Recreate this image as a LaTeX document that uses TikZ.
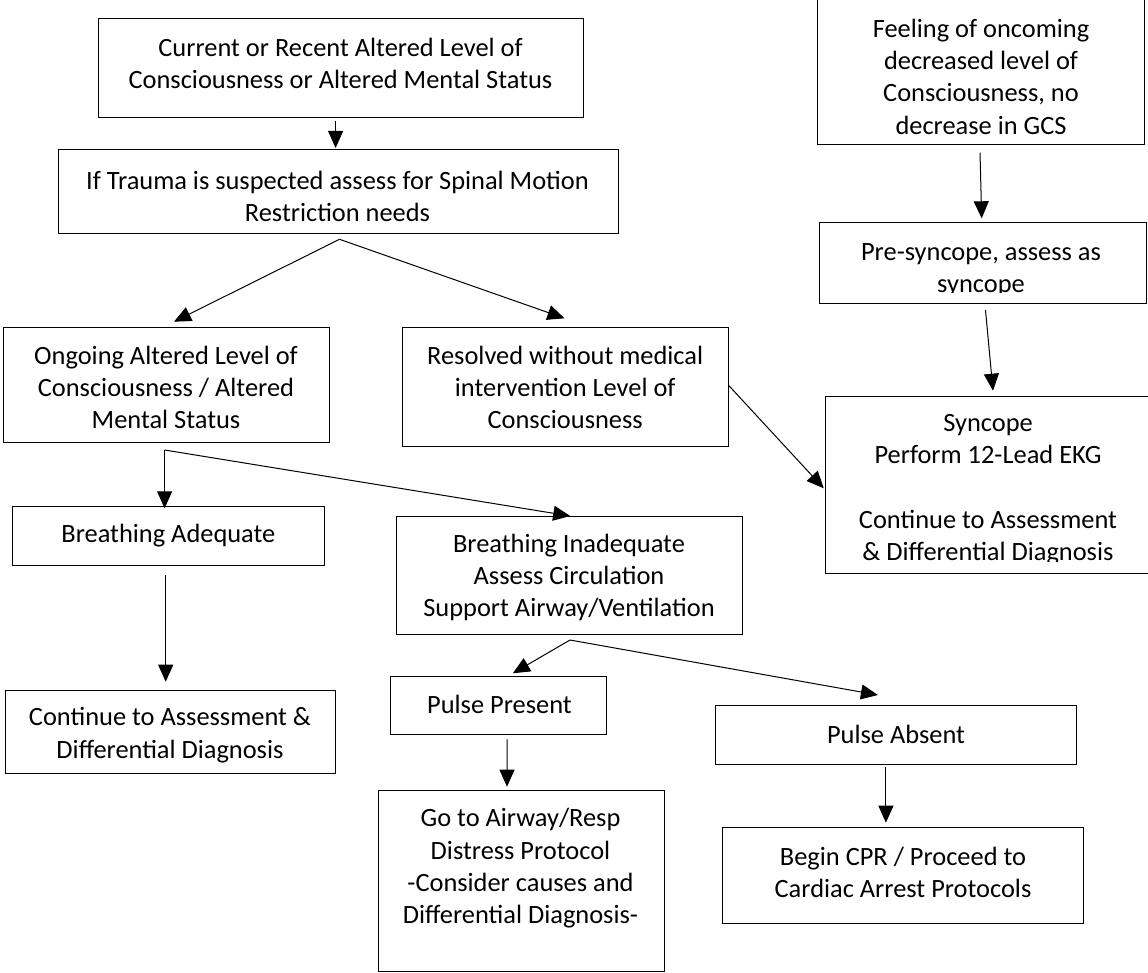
\documentclass[tikz,border=0pt]{standalone}
\usepackage{fontspec}
\setmainfont{Carlito}
\usetikzlibrary{calc,arrows.meta}

\tikzset{
  box/.style={draw=black, line width=1pt, fill=none, inner sep=0pt, outer sep=0pt},
  txt/.style={align=center, inner sep=0pt, font=\fontsize{26.4}{32.3}\selectfont},
  arr/.style={line width=1pt, -{Triangle[length=17pt,width=15pt]}}
}

% place a framed box from its corners: \boxat{name}{left}{top}{right}{bottom}
\newcommand{\boxat}[5]{%
  \node[box, minimum width={(#4-#2)*1pt}, minimum height={(#5-#3)*1pt}] (#1) at ({(#2+#4)/2},{(#3+#5)/2}) {};}

\begin{document}
\begin{tikzpicture}[x=1pt,y=-1pt]
\useasboundingbox (0,0) rectangle (1148,973);
\clip (0,0) rectangle (1148,973);

% boxes
\boxat{b1}{98}{19}{583}{117.3}
\boxat{b2}{58.6}{150}{618}{233.3}
\boxat{ongoing}{3}{327.3}{329}{442.3}
\boxat{resolved}{402.6}{327.3}{728.3}{446}
\boxat{feeling}{817.8}{-5}{1144.2}{145}
\boxat{pre}{819.5}{222.3}{1146}{304}
\boxat{syncope}{825.4}{396}{1160}{573.3}
\boxat{badequate}{12.6}{506}{324.5}{565}
\boxat{binadequate}{396.9}{516.7}{742.6}{634.3}
\boxat{continue}{5.4}{690}{335.6}{773.3}
\boxat{ppresent}{390.4}{676}{606.3}{734.3}
\boxat{goto}{378.9}{790}{664}{971.7}
\boxat{pabsent}{715.3}{705.7}{1076}{764}
\boxat{cpr}{722.3}{827.7}{1083}{923.3}

% texts
\node[txt] (b1t) at (340.5,63.5) {Current or Recent Altered Level of\\Consciousness or Altered Mental Status};
\node[txt] (b2t) at (337.5,196.7) {If Trauma is suspected assess for Spinal Motion\\Restriction needs};
\node[txt] (ongoingt) at (166,387.6) {Ongoing Altered Level of\\Consciousness / Altered\\Mental Status};
\node[txt] (resolvedt) at (565.2,387.6) {Resolved without medical\\intervention Level of\\Consciousness};
\node[txt] (feelingt) at (981,76.5) {Feeling of oncoming\\decreased level of\\Consciousness, no\\decrease in GCS};
\begin{scope}
  \clip (819.5,222.3) rectangle (1146,292.7);
  \node[txt] (pret) at (981,270) {Pre-syncope, assess as\\syncope};
\end{scope}
\begin{scope}
  \clip (825.4,396) rectangle (1148,561.7);
  \node[txt] (syncopet) at (988,490) {Syncope\\Perform 12-Lead EKG\\[32.3pt]Continue to Assessment\\\& Differential Diagnosis};
\end{scope}
\node[txt] (badequatet) at (168.4,536) {Breathing Adequate};
\node[txt] (binadequatet) at (569,577.5) {Breathing Inadequate\\Assess Circulation\\Support Airway/Ventilation};
\node[txt] (continuet) at (170,735) {Continue to Assessment \&\\Differential Diagnosis};
\node[txt] (ppresentt) at (499.4,704) {Pulse Present};
\node[txt] (gotot) at (520.5,868.3) {Go to Airway/Resp\\Distress Protocol\\-Consider causes and\\Differential Diagnosis-};
\node[txt] (pabsentt) at (896,734) {Pulse Absent};
\node[txt] (cprt) at (903,872.5) {Begin CPR / Proceed to\\Cardiac Arrest Protocols};

% branch points
\coordinate (f2) at ($(b2.south)+(1.2,6)$);
\coordinate (fo) at ($(ongoing.south)+(-1.4,7.7)$);
\coordinate (fb) at ($(binadequate.south)+(0.25,5.7)$);

% connectors
\draw[arr] ($(b1.south)+(-4.9,3.4)$) -- ($(b2.north)+(-2.7,-2)$);
\draw[arr] (f2) -- ($(ongoing.north)+(8,-5.6)$);
\draw[arr] (f2) -- ($(resolved.north)+(-0.95,-9)$);
\draw[arr] ($(feeling.south)+(-1,7.7)$) -- ($(pre.north)+(-1.05,-4)$);
\draw[arr] ($(pre.south)+(2.75,6)$) -- ($(syncope.north)+(0.3,-5.3)$);
\draw[arr] ($(resolved.east)+(0,-1.65)$) -- ($(syncope.west)+(-1.7,3.65)$);
\draw[arr] (fo) -- ($(badequate.north)+(-3.95,2.3)$);
\draw[arr] (fo) -- ($(binadequate.north)+(0.45,-0.7)$);
\draw[arr] ($(badequate.south)+(-2.85,10)$) -- ($(continue.north)+(-4.8,-8.3)$);
\draw[arr] (fb) -- ($(ppresent.north)+(14.45,-2.7)$);
\draw[arr] (fb) -- ($(pabsent.north)+(-17.75,-10.7)$);
\draw[arr] ($(ppresent.south)+(8.65,5)$) -- ($(goto.north)+(-14.45,-3.3)$);
\draw[arr] ($(pabsent.south)+(-9.75,2.7)$) -- ($(cpr.north)+(-16.75,-5)$);
\end{tikzpicture}
\end{document}
